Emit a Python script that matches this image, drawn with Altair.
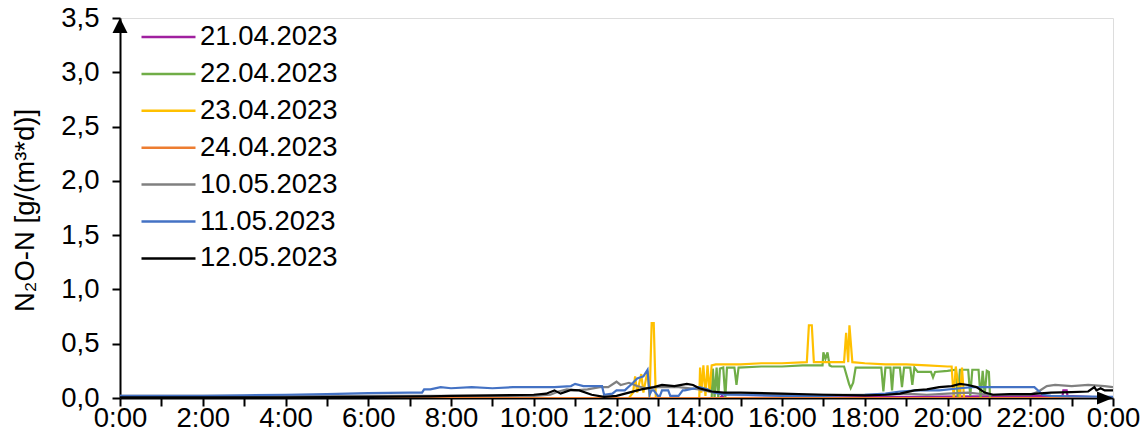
import altair as alt
import pandas as pd

# ---- data (time in hours, N2O-N in g/(m3*d)) ----
series_names = ["21.04.2023", "22.04.2023", "23.04.2023", "24.04.2023",
                "10.05.2023", "11.05.2023", "12.05.2023"]
series_colors = ["#A0209F", "#70AD47", "#FFC000", "#ED7D31",
                 "#808080", "#4472C4", "#000000"]

t_2104 = [0, 14.5, 14.55, 14.6, 22.78, 22.8, 22.88, 22.9, 24]
v_2104 = [0.0, 0.0, 0.02, 0.0, 0.02, 0.07, 0.07, 0.02, 0.0]

t_2204 = [0, 14.3, 14.33, 14.37, 14.42, 14.46, 14.5, 14.58, 14.63, 14.67, 14.85, 14.9,
          14.95, 15.5, 16.0, 16.5, 16.98, 17.0, 17.05, 17.1, 17.15, 17.2, 17.5, 17.62,
          17.66, 17.72, 17.78, 18.0, 18.4, 18.45, 18.5, 18.62, 18.66, 18.7, 18.85, 18.9,
          18.95, 19.1, 19.15, 19.2, 19.28, 19.32, 19.6, 19.65, 19.7, 20.0, 20.2, 20.25,
          20.3, 20.5, 20.55, 20.6, 20.75, 20.8, 20.85, 20.9, 20.95, 21.0, 21.03, 24]
v_2204 = [0, 0, 0.27, 0.0, 0.28, 0.0, 0.27, 0.28, 0.0, 0.28, 0.28, 0.12,
          0.28, 0.29, 0.29, 0.30, 0.30, 0.42, 0.36, 0.42, 0.30, 0.29, 0.29, 0.13,
          0.09, 0.14, 0.28, 0.28, 0.28, 0.06, 0.28, 0.28, 0.07, 0.28, 0.28, 0.10,
          0.28, 0.28, 0.12, 0.28, 0.24, 0.24, 0.24, 0.19, 0.24, 0.25, 0.26, 0.0,
          0.26, 0.26, 0.02, 0.26, 0.26, 0.0, 0.25, 0.03, 0.25, 0.24, 0.0, 0.0]

t_2304 = [0, 12.3, 12.4, 12.45, 12.5, 12.6, 12.65, 12.75, 12.8, 12.85, 12.9, 12.95,
          14.0, 14.02, 14.05, 14.1, 14.15, 14.2, 14.25, 14.3, 14.4, 15.0, 15.5, 16.0,
          16.6, 16.65, 16.72, 16.77, 17.0, 17.5, 17.55, 17.6, 17.63, 17.7, 18.0, 18.5,
          19.0, 19.5, 20.0, 20.1, 20.15, 20.2, 20.3, 20.35, 20.4, 24]
v_2304 = [0, 0, 0.05, 0.20, 0.05, 0.22, 0.05, 0.25, 0.0, 0.69, 0.69, 0.0,
          0.0, 0.28, 0.05, 0.30, 0.02, 0.30, 0.05, 0.30, 0.31, 0.31, 0.32, 0.32,
          0.33, 0.67, 0.67, 0.33, 0.33, 0.33, 0.60, 0.33, 0.67, 0.33, 0.32, 0.31,
          0.31, 0.30, 0.29, 0.29, 0.0, 0.29, 0.0, 0.28, 0.0, 0.0]

t_2404 = [4.3, 24]
v_2404 = [0.0, 0.0]

t_1005 = [0, 2, 4, 6, 8, 9, 10, 10.4, 10.6, 10.8, 11.0, 11.3, 11.6, 11.8, 12.0, 12.1,
          12.3, 12.5, 12.7, 13.0, 13.5, 14.0, 14.5, 15, 16, 17, 18, 18.5, 19, 19.5, 20,
          20.5, 21, 21.5, 22, 22.2, 22.4, 22.6, 23, 23.4, 23.8, 24]
v_1005 = [0.02, 0.02, 0.02, 0.02, 0.02, 0.02, 0.02, 0.03, 0.06, 0.08, 0.07, 0.08, 0.10,
          0.10, 0.15, 0.12, 0.14, 0.11, 0.09, 0.10, 0.10, 0.08, 0.04, 0.03, 0.03, 0.03,
          0.03, 0.03, 0.04, 0.03, 0.04, 0.05, 0.03, 0.03, 0.03, 0.06, 0.11, 0.12, 0.11,
          0.12, 0.11, 0.10]

t_1105 = [0, 1, 2, 3, 4, 5, 6, 7, 7.3, 7.35, 7.5, 7.75, 8, 8.5, 9, 9.5, 10, 10.5, 10.9,
          11.0, 11.2, 11.5, 11.65, 11.7, 11.9, 12.0, 12.2, 12.4, 12.5, 12.65, 12.75, 12.8,
          12.85, 12.9, 13.0, 13.05, 13.1, 13.25, 13.3, 13.5, 13.6, 13.65, 13.9, 14.0, 14.2,
          14.35, 14.6, 15, 16, 17, 18, 18.5, 18.85, 19.3, 19.8, 20.3, 20.6, 21, 21.5, 22.0,
          22.1, 22.3, 22.5, 23, 24]
v_1105 = [0.02, 0.02, 0.02, 0.025, 0.03, 0.035, 0.045, 0.05, 0.05, 0.08, 0.08, 0.10,
          0.09, 0.10, 0.09, 0.10, 0.10, 0.10, 0.11, 0.13, 0.11, 0.11, 0.11, 0.03, 0.04,
          0.07, 0.07, 0.14, 0.18, 0.20, 0.26, 0.03, 0.07, 0.07, 0.02, 0.02, 0.07, 0.07,
          0.02, 0.02, 0.07, 0.07, 0.09, 0.10, 0.08, 0.05, 0.03, 0.03, 0.02, 0.02, 0.03,
          0.04, 0.06, 0.07, 0.07, 0.09, 0.10, 0.10, 0.10, 0.10, 0.10, 0.03, 0.02, 0.015,
          0.01]

t_1205 = [0, 4, 6, 7.5, 8, 9, 10, 10.3, 10.5, 10.65, 10.9, 11.1, 11.4, 11.7, 12.0, 12.3,
          12.6, 12.9, 13.1, 13.4, 13.7, 13.85, 14.0, 14.3, 14.6, 15, 16, 17, 18, 18.5,
          18.85, 19.2, 19.5, 19.8, 20.1, 20.3, 20.5, 20.7, 20.9, 21.1, 21.5, 22, 22.5, 23,
          23.4, 23.55, 23.6, 23.7, 23.8, 24]
v_1205 = [0.005, 0.005, 0.01, 0.015, 0.02, 0.025, 0.03, 0.04, 0.07, 0.04, 0.075, 0.07,
          0.03, 0.01, 0.02, 0.05, 0.08, 0.10, 0.12, 0.11, 0.13, 0.12, 0.09, 0.06, 0.05,
          0.05, 0.04, 0.03, 0.025, 0.03, 0.04, 0.07, 0.08, 0.10, 0.11, 0.13, 0.12, 0.10,
          0.05, 0.03, 0.035, 0.035, 0.05, 0.055, 0.06, 0.10, 0.07, 0.09, 0.07, 0.07]

x_tick_values = list(range(0, 25))
y_tick_values = [0, 0.5, 1.0, 1.5, 2.0, 2.5, 3.0, 3.5]
y_title = "N\u2082O-N [g/(m\u00b3*d)]"

# ---- build table ----
all_t = [t_2104, t_2204, t_2304, t_2404, t_1005, t_1105, t_1205]
all_v = [v_2104, v_2204, v_2304, v_2404, v_1005, v_1105, v_1205]
rows = []
for i, (name, ts, vs) in enumerate(zip(series_names, all_t, all_v)):
    for t, v in zip(ts, vs):
        rows.append({"series": name, "idx": i, "t": t, "v": v})
df = pd.DataFrame(rows)

arrow_df = pd.DataFrame({"t": [0, 24], "v": [3.5, 0], "kind": ["up", "right"]})

FONT = "Liberation Sans"
FS = 27.5

x_scale = alt.Scale(domain=[0, 24], nice=False, zero=False)
y_scale = alt.Scale(domain=[0, 3.5], nice=False)

x_axis = alt.Axis(
    values=x_tick_values,
    labelExpr="datum.value % 2 == 0 ? (datum.value % 24) + ':00' : ''",
    title=None, grid=False, tickSize=8, tickWidth=2, tickColor="black",
    domainColor="black", domainWidth=2, labelFont=FONT, labelFontSize=FS,
    labelColor="black", labelPadding=-2, labelFlush=False, labelOverlap=False,
)
y_axis = alt.Axis(
    values=y_tick_values,
    labelExpr="replace(format(datum.value, '.1f'), '.', ',')",
    title=y_title, grid=False, tickSize=8, tickWidth=2, tickColor="black",
    domainColor="black", domainWidth=2, labelFont=FONT, labelFontSize=FS,
    labelColor="black", labelPadding=13, labelFlush=False, labelOverlap=False,
    titleFont=FONT, titleFontSize=FS, titleFontWeight="normal", titleColor="black",
    titleAngle=270, titleX=-95, titleY=192, titleAlign="center", titleBaseline="middle",
)

lines = alt.Chart(df).mark_line(strokeWidth=2.2, clip=True).encode(
    x=alt.X("t:Q", scale=x_scale, axis=x_axis),
    y=alt.Y("v:Q", scale=y_scale, axis=y_axis),
    color=alt.Color(
        "series:N",
        sort=series_names,
        scale=alt.Scale(domain=series_names, range=series_colors),
        legend=alt.Legend(
            title=None, orient="none", legendX=20, legendY=7,
            symbolType="stroke", symbolSize=2916, symbolStrokeWidth=2.5,
            labelFont=FONT, labelFontSize=FS, labelColor="black", labelOffset=3,
            clipHeight=24, rowPadding=8.9, padding=0, direction="vertical",
        ),
    ),
    detail="idx:O",
)

arrow_up = alt.Chart(arrow_df).transform_filter("datum.kind == 'up'").mark_point(
    shape="M0,0 L-0.5,1 L0.5,1 Z", size=900, filled=True, color="black", opacity=1,
).encode(x=alt.X("t:Q", scale=x_scale), y=alt.Y("v:Q", scale=y_scale))

arrow_right = alt.Chart(arrow_df).transform_filter("datum.kind == 'right'").mark_point(
    shape="M0,0 L-1,-0.4 L-1,0.4 Z", size=1024, filled=True, color="black", opacity=1,
).encode(x=alt.X("t:Q", scale=x_scale), y=alt.Y("v:Q", scale=y_scale))

chart = alt.layer(lines, arrow_up, arrow_right).properties(
    width=993, height=380,
    autosize=alt.AutoSizeParams(type="none"),
    padding={"left": 120, "top": 18, "right": 30, "bottom": 49},
).configure_view(stroke=None).configure(background="white")

chart.save("out.html", embed_options={"renderer": "svg", "actions": False})
